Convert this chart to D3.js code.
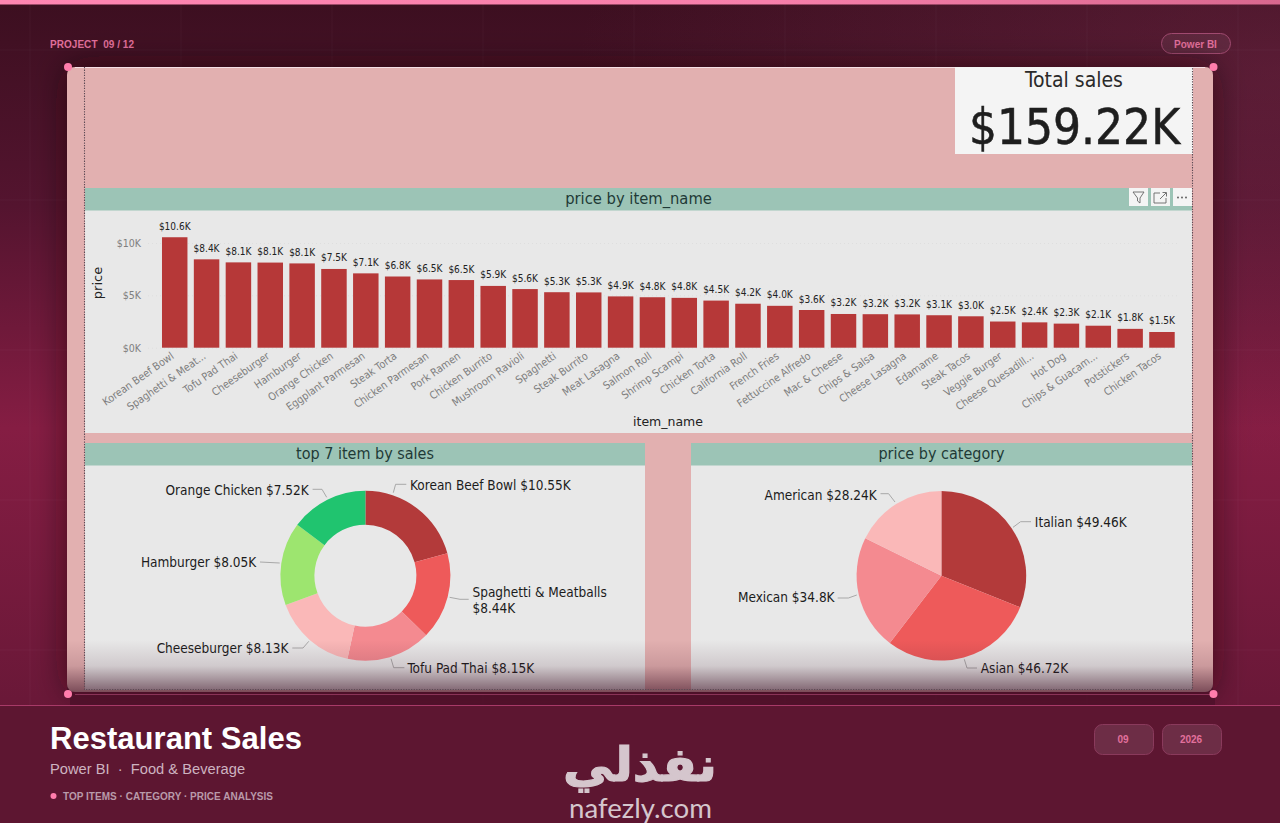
<!DOCTYPE html>
<html><head><meta charset="utf-8">
<style>html,body{margin:0;padding:0;width:1280px;height:823px;overflow:hidden;background:#4a1128}svg{display:block}</style>
<script src="https://cdn.jsdelivr.net/npm/d3@7"></script></head>
<body><svg id="c" width="1280" height="823" viewBox="0 0 1280 823"></svg>
<script>
const itemNames=["Korean Beef Bowl","Spaghetti & Meat...","Tofu Pad Thai","Cheeseburger","Hamburger","Orange Chicken","Eggplant Parmesan","Steak Torta","Chicken Parmesan","Pork Ramen","Chicken Burrito","Mushroom Ravioli","Spaghetti","Steak Burrito","Meat Lasagna","Salmon Roll","Shrimp Scampi","Chicken Torta","California Roll","French Fries","Fettuccine Alfredo","Mac & Cheese","Chips & Salsa","Cheese Lasagna","Edamame","Steak Tacos","Veggie Burger","Cheese Quesadill...","Hot Dog","Chips & Guacam...","Potstickers","Chicken Tacos"];
const itemPrices=[10.55,8.44,8.149,8.13,8.05,7.52,7.1,6.8,6.52,6.46,5.9,5.6,5.3,5.28,4.9,4.82,4.76,4.5,4.2,4.0,3.6,3.22,3.2,3.18,3.1,3.0,2.5,2.42,2.3,2.1,1.8,1.5];
const yTicks=[0,5,10];
const topItems=["Korean Beef Bowl","Spaghetti & Meatballs","Tofu Pad Thai","Cheeseburger","Hamburger","Orange Chicken"];
const topSales=[10.55,8.44,8.15,8.13,8.05,7.52];
const topColors=["#b33a3a","#ee5a5a","#f48a90","#fab8b8","#9de56f","#20c46f"];
const categories=["Italian","Asian","Mexican","American"];
const categorySales=[49.46,46.72,34.8,28.24];
const categoryColors=["#b33a3a","#ee5a5a","#f48a90","#fab8b8"];
const LABEL="'DejaVu Sans Condensed','DejaVu Sans',sans-serif";
const UI="'Liberation Sans',Arial,sans-serif";
const svg=d3.select("#c"),defs=svg.append("defs");
function lin(id,x1,y1,x2,y2,st){const g=defs.append("linearGradient").attr("id",id).attr("x1",x1).attr("y1",y1).attr("x2",x2).attr("y2",y2);st.forEach(s=>g.append("stop").attr("offset",s[0]).attr("stop-color",s[1]).attr("stop-opacity",s[2]==null?1:s[2]));}
lin("bg",0,0,0,1,[[0,"#3c0f20"],[.25,"#54142f"],[.52,"#851d43"],[.85,"#6a1838"],[1,"#4e1129"]]);
lin("top",0,0,1,0,[[0,"#ff86b2"],[.6,"#f77fab"],[1,"#d9688f"]]);
lin("fade",0,0,0,1,[[0,"#3d1024",0],[.5,"#3d1024",.14],[1,"#3d1024",.62]]);
const glow=defs.append("radialGradient").attr("id","glow").attr("cx",1).attr("cy",.1).attr("r",.55);
glow.append("stop").attr("offset",0).attr("stop-color","#8a3558").attr("stop-opacity",.32);
glow.append("stop").attr("offset",1).attr("stop-color","#8a3558").attr("stop-opacity",0);
const sh=defs.append("filter").attr("id","sh").attr("x","-10%").attr("y","-10%").attr("width","120%").attr("height","120%");
sh.append("feDropShadow").attr("dx",0).attr("dy",0).attr("stdDeviation",16).attr("flood-color","#1c0410").attr("flood-opacity",.6);
svg.append("rect").attr("width",1280).attr("height",823).attr("fill","url(#bg)");
svg.append("rect").attr("width",1280).attr("height",705).attr("fill","url(#glow)");
const grid=svg.append("g").attr("stroke","#fff").attr("stroke-opacity",.035);
d3.range(30,1280,151).forEach(x=>grid.append("line").attr("x1",x).attr("x2",x).attr("y1",4).attr("y2",705));
d3.range(50,705,150).forEach(y=>grid.append("line").attr("x1",0).attr("x2",1280).attr("y1",y).attr("y2",y));
svg.append("rect").attr("width",1280).attr("height",4.5).attr("fill","url(#top)");
function txt(p,s,x,y,o){const t=p.append("text").text(s).attr("x",x).attr("y",y).attr("dominant-baseline","central").attr("font-family",o.f||LABEL).attr("font-size",o.s).attr("fill",o.c).attr("text-anchor",o.a||"start");if(o.w)t.attr("font-weight",o.w);if(o.ls)t.attr("letter-spacing",o.ls);return t;}
// header
txt(svg,"PROJECT  09 / 12",50,44,{f:UI,s:10,c:"#e2709c",w:"bold"}).attr("xml:space","preserve").attr("textLength",84);
svg.append("rect").attr("x",1161.5).attr("y",33.5).attr("width",69).attr("height",20).attr("rx",10).attr("fill","#ffffff").attr("fill-opacity",.06).attr("stroke","#a14a70");
txt(svg,"Power BI",1195.5,44,{f:UI,s:10,c:"#e2709c",w:"bold",a:"middle"});
// card
svg.append("rect").attr("x",67).attr("y",67).attr("width",1146).attr("height",625).attr("rx",8).attr("fill","#e2b0b0").attr("filter","url(#sh)");
svg.append("path").attr("d","M75 67.5H1205").attr("stroke","#f6dfe5").attr("stroke-width",1.2);
svg.append("rect").attr("x",955).attr("y",67).attr("width",238).attr("height",87).attr("fill","#f4f4f4");
txt(svg,"Total sales",1074,80,{s:21,c:"#2a2a2a",a:"middle"});
txt(svg,"$159.22K",1074.5,127,{s:49,c:"#1e1e1e",a:"middle"}).attr("stroke","#1e1e1e").attr("stroke-width",.5);
// panels
const panels=[[85,188,1107,245,"price by item_name",16.4],[85,443,560,247,"top 7 item by sales",16],[691,443,501,247,"price by category",16]];
panels.forEach(p=>{svg.append("rect").attr("x",p[0]).attr("y",p[1]).attr("width",p[2]).attr("height",p[3]).attr("fill","#e8e8e8");
svg.append("rect").attr("x",p[0]).attr("y",p[1]).attr("width",p[2]).attr("height",22.5).attr("fill","#9cc4b6");
txt(svg,p[4],p[0]+p[2]/2,p[1]+10,{s:p[5],c:"#1f3a36",a:"middle"});});
// icons
[1129,1151,1173].forEach(x=>svg.append("rect").attr("x",x).attr("y",188).attr("width",19).attr("height",18).attr("fill","#f4f4f4"));
svg.append("path").attr("d","M1133 192H1144L1140 198V203L1137.5 201V198Z").attr("fill","none").attr("stroke","#666").attr("stroke-width",.9);
svg.append("path").attr("d","M1160 193H1154V203H1166V198M1160 199L1166 193M1162.5 192.5H1166.5V196.5").attr("fill","none").attr("stroke","#666").attr("stroke-width",.9);
[1178,1182,1186].forEach(x=>svg.append("circle").attr("cx",x).attr("cy",197.5).attr("r",.9).attr("fill","#555"));
// bars
const x=d3.scaleBand().domain(itemNames).range([158.8,1177.9]).paddingInner(.2).paddingOuter(.1);
const y=d3.scaleLinear().domain([0,10]).range([347.7,243]);
const ax=svg.append("g").attr("transform","translate(148,0)").call(d3.axisLeft(y).tickValues(yTicks).tickSize(-1030).tickPadding(7).tickFormat(d=>"$"+d+"K"));
ax.select(".domain").remove();
ax.selectAll("line").attr("stroke","#dedede").attr("stroke-dasharray","1 3");
ax.selectAll("text").attr("font-family",LABEL).attr("font-size",10.5).attr("fill","#7f7f7f");
svg.append("g").selectAll("rect").data(itemNames).join("rect").attr("x",d=>x(d)).attr("width",x.bandwidth()).attr("y",(d,i)=>y(itemPrices[i])).attr("height",(d,i)=>y(0)-y(itemPrices[i])).attr("fill","#b63838");
svg.append("g").selectAll("text").data(itemNames).join("text").attr("x",d=>x(d)+x.bandwidth()/2).attr("y",(d,i)=>y(itemPrices[i])-11).attr("text-anchor","middle").attr("dominant-baseline","central").attr("font-family",LABEL).attr("font-size",10).attr("fill","#222").text((d,i)=>"$"+itemPrices[i].toFixed(1)+"K");
svg.append("g").selectAll("text").data(itemNames).join("text").attr("text-anchor","end").attr("font-family",LABEL).attr("font-size",10.7).attr("fill","#7d7d7d").attr("transform",d=>`translate(${x(d)+x.bandwidth()/2},${y(0)+10}) rotate(-35)`).text(d=>d);
txt(svg,"price",97,283,{f:"'DejaVu Sans',sans-serif",s:13,c:"#222",a:"middle"}).attr("transform","rotate(-90 97 283)");
txt(svg,"item_name",668,421,{f:"'DejaVu Sans',sans-serif",s:12.5,c:"#222",a:"middle"});
// pies
const pie=d3.pie().value(d=>d.v).sort(null);
function drawPie(cx,cy,ri,ro,names,vals,cols){const data=pie(names.map((n,i)=>({n,v:vals[i],c:cols[i]})));const arc=d3.arc().innerRadius(ri).outerRadius(ro);
svg.append("g").attr("transform",`translate(${cx},${cy})`).selectAll("path").data(data).join("path").attr("d",arc).attr("fill",d=>d.data.c);}
drawPie(365.4,575.7,51,85,topItems,topSales,topColors);
drawPie(941.4,575.7,0,84.8,categories,categorySales,categoryColors);
// callouts: [label lines, anchor, text x, text y, leader]
const callouts=[
[["Korean Beef Bowl $10.55K"],"start",410,484.5,[[393.3,492.7],[395.6,484.3],[406.3,484.3]]],
[["Spaghetti & Meatballs","$8.44K"],"start",472.5,592,[[449.6,597.3],[460,599.3],[468.7,599.3]]],
[["Tofu Pad Thai $8.15K"],"start",407.5,667.7,[[391,658.7],[393.7,667.7],[404.4,667.7]]],
[["Cheeseburger $8.13K"],"end",288.5,648.3,[[292.3,648],[303,648],[308.8,641.3]]],
[["Hamburger $8.05K"],"end",256.3,562.3,[[260,562],[279.7,563]]],
[["Orange Chicken $7.52K"],"end",308.8,489.7,[[312.6,489.3],[322,489.3],[326.7,497.3]]],
[["Italian $49.46K"],"start",1034.8,522,[[1013,527.3],[1020.6,521.7],[1031,521.7]]],
[["Asian $46.72K"],"start",980.8,667.7,[[964.3,659.3],[967,668],[977,668]]],
[["Mexican $34.8K"],"end",834.6,597,[[837.7,598],[848.4,598],[856.8,595]]],
[["American $28.24K"],"end",876.7,495,[[880.5,493.7],[888.6,493.7],[895,502]]]];
const lineGen=d3.line();
callouts.forEach(c=>{svg.append("path").attr("d",lineGen(c[4])).attr("fill","none").attr("stroke","#a8a8a8").attr("stroke-width",1);
c[0].forEach((s,i)=>txt(svg,s,c[2],c[3]+i*16,{s:13.5,c:"#1c1c1c",a:c[1]}));});
// fade, dotted frame, dots
svg.append("rect").attr("x",67).attr("y",640).attr("width",1146).attr("height",52).attr("fill","url(#fade)");
svg.append("path").attr("d","M84.5 67V689.5H1192.5V67").attr("fill","none").attr("stroke","#5d4a54").attr("stroke-width",1.1).attr("stroke-dasharray","1.3 1.3");
// footer
svg.append("rect").attr("x",70).attr("y",692).attr("width",1145).attr("height",13).attr("fill","#4c1029").attr("fill-opacity",.75);
svg.append("path").attr("d","M75 694.5H1213").attr("stroke","#8a3358").attr("stroke-width",1);
[[68,67],[1213.5,67],[68,694],[1213.5,694]].forEach(p=>svg.append("circle").attr("cx",p[0]).attr("cy",p[1]).attr("r",4).attr("fill","#ff7dac"));
svg.append("rect").attr("y",705).attr("width",1280).attr("height",118).attr("fill","#5d1631");
svg.append("path").attr("d","M0 705.5H1280").attr("stroke","#a83a68").attr("stroke-width",1);
txt(svg,"Restaurant Sales",50,738.5,{f:UI,s:31,c:"#fff",w:"bold"}).attr("textLength",252);
txt(svg,"Power BI  ·  Food & Beverage",50,769,{f:UI,s:14.7,c:"#cdb3c0"}).attr("xml:space","preserve");
svg.append("circle").attr("cx",53.5).attr("cy",796).attr("r",3).attr("fill","#ff7dac");
txt(svg,"TOP ITEMS · CATEGORY · PRICE ANALYSIS",63,796,{f:UI,s:10,c:"#b99aaa",w:"bold"}).attr("textLength",210);
[[1094.5,"09"],[1162.5,"2026"]].forEach(p=>{svg.append("rect").attr("x",p[0]).attr("y",724.5).attr("width",59).attr("height",30).attr("rx",8).attr("fill","#fff").attr("fill-opacity",.1).attr("stroke","#8a3a5c");
txt(svg,p[1],p[0]+28.5,739,{f:UI,s:10,c:"#e2709c",w:"bold",a:"middle"});});
txt(svg,"نفذلي",640,764,{f:"'DejaVu Sans',sans-serif",s:47,c:"#d5c6cd",w:"bold",a:"middle"}).attr("direction","rtl").attr("textLength",154).attr("lengthAdjust","spacingAndGlyphs").attr("stroke","#d5c6cd").attr("stroke-width",1.2);
txt(svg,"nafezly.com",640.5,807,{f:"'Lato',sans-serif",s:27,c:"#d5c6cd",a:"middle"}).attr("textLength",143).attr("lengthAdjust","spacingAndGlyphs");
</script></body></html>
